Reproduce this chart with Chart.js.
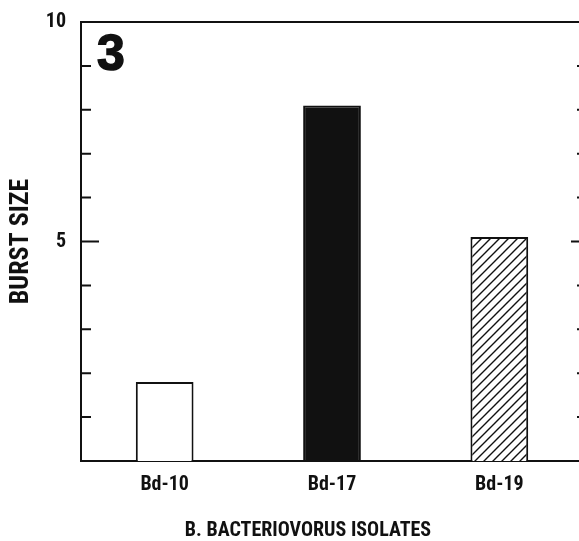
<!DOCTYPE html>
<html>
<head>
<meta charset="utf-8">
<script src="https://cdn.jsdelivr.net/npm/chart.js@4.4.1/dist/chart.umd.min.js"></script>
<style>
  html, body { margin: 0; padding: 0; background: #fff; overflow: hidden; }
  #wrap { width: 588px; height: 541px; position: relative; }
</style>
</head>
<body>
<div id="wrap"><canvas id="c"></canvas></div>
<script>
const categories = ['Bd-10', 'Bd-17', 'Bd-19'];
const burstSize = [1.8, 8.1, 5.1];
const labeledTicks = [5, 10];
const yTitle = 'BURST SIZE';
const xTitle = 'B. BACTERIOVORUS ISOLATES';
const panelLabel = '3';

const COND = '"Roboto Condensed", "DejaVu Sans Condensed", sans-serif';

function hatch() {
  const s = 9;
  const c = document.createElement('canvas');
  c.width = s; c.height = s;
  const g = c.getContext('2d');
  g.fillStyle = '#fff'; g.fillRect(0, 0, s, s);
  g.strokeStyle = '#111'; g.lineWidth = 1.4;
  g.beginPath();
  g.moveTo(-2, s + 2); g.lineTo(s + 2, -2);
  g.moveTo(-2, 2); g.lineTo(2, -2);
  g.moveTo(s - 2, s + 2); g.lineTo(s + 2, s - 2);
  g.stroke();
  return g.createPattern(c, 'repeat');
}
const ctx0 = document.getElementById('c').getContext('2d');
const fills = ['#ffffff', '#111111', hatch()];

const framePlugin = {
  id: 'frame',
  afterDraw(chart) {
    const { ctx, chartArea: a, scales: { y } } = chart;
    ctx.save();
    ctx.strokeStyle = '#111';
    ctx.lineWidth = 2;
    ctx.beginPath();
    ctx.moveTo(a.left, a.top); ctx.lineTo(a.right, a.top); ctx.lineTo(a.right, a.bottom);
    ctx.stroke();
    for (let v = 1; v < 10; v++) {
      const py = y.getPixelForValue(v);
      const major = v === 5;
      ctx.beginPath();
      ctx.moveTo(a.left, py); ctx.lineTo(a.left + (major ? 18 : 10), py);
      ctx.moveTo(a.right, py); ctx.lineTo(a.right - (major ? 12 : 6), py);
      ctx.stroke();
    }
    ctx.fillStyle = '#111';
    ctx.strokeStyle = '#111';
    ctx.lineWidth = 1.5;
    ctx.font = 'bold 50px "Liberation Sans", Arial, sans-serif';
    ctx.textBaseline = 'alphabetic';
    ctx.textAlign = 'left';
    ctx.fillText(panelLabel, a.left + 16, a.top + 48);
    ctx.strokeText(panelLabel, a.left + 16, a.top + 48);
    // x-axis title (offset to the left of the plot centre as in the original)
    ctx.font = 'bold 20px ' + COND;
    ctx.textAlign = 'center';
    ctx.textBaseline = 'middle';
    ctx.fillText(xTitle, a.left + 227, chart.height - 10);
    ctx.restore();
  }
};

new Chart(ctx0, {
  type: 'bar',
  data: {
    labels: categories,
    datasets: [{
      data: burstSize,
      backgroundColor: fills,
      borderColor: '#111',
      borderWidth: 2,
      borderSkipped: 'bottom',
      barPercentage: 0.345,
      categoryPercentage: 1
    }]
  },
  options: {
    responsive: true,
    maintainAspectRatio: false,
    animation: false,
    events: [],
    layout: { padding: { top: 22, right: 5, left: 0, bottom: 0 } },
    plugins: { legend: { display: false }, tooltip: { enabled: false } },
    scales: {
      x: {
        grid: { display: false, drawTicks: false },
        border: { display: true, color: '#111', width: 2 },
        ticks: { color: '#111', padding: 12, font: { family: COND, size: 20, weight: 'bold' } },
        afterFit(s) { s.height = 80; }
      },
      y: {
        min: 0, max: 10,
        grid: { display: false, drawTicks: false },
        border: { display: true, color: '#111', width: 2 },
        ticks: {
          stepSize: 1, color: '#111', padding: 15,
          font: { family: COND, size: 20, weight: 'bold' },
          callback: v => labeledTicks.includes(v) ? String(v) : ''
        },
        title: { display: true, text: yTitle, color: '#111', padding: { top: 6, bottom: 0 },
                 font: { family: COND, size: 26, weight: 'bold' } },
        afterFit(s) { s.width = 81; s.paddingTop = 0; s.paddingBottom = 0; }
      }
    }
  },
  plugins: [framePlugin]
});
</script>
</body>
</html>
